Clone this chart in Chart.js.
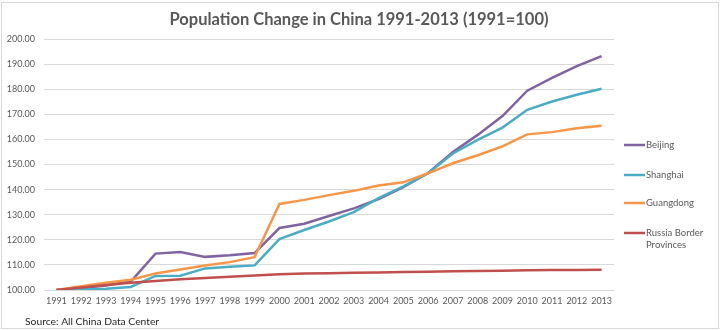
<!DOCTYPE html>
<html>
<head>
<meta charset="utf-8">
<title>Population Change in China 1991-2013</title>
<script src="https://cdn.jsdelivr.net/npm/chart.js@4/dist/chart.umd.min.js"></script>
<style>
body { margin: 0; background: #fff; }
canvas { display: block; }
</style>
</head>
<body>
<canvas id="chart" width="720" height="330"></canvas>
<script>
var years = ['1991','1992','1993','1994','1995','1996','1997','1998','1999','2000','2001','2002',
             '2003','2004','2005','2006','2007','2008','2009','2010','2011','2012','2013'];

// index values, 1991 = 100
var beijing   = [100, 100.8, 101.8, 103.4, 114.5, 115.1, 113.2, 113.8, 114.7, 124.7, 126.4, 129.5,
                 132.5, 136.2, 141.0, 146.6, 155.0, 161.8, 169.3, 179.4, 184.5, 189.2, 193.2];
var shanghai  = [100, 100.2, 100.5, 101.2, 105.6, 105.7, 108.6, 109.3, 109.8, 120.3, 123.9, 127.3,
                 131.0, 136.6, 141.3, 146.5, 154.4, 159.8, 164.7, 171.8, 175.1, 177.8, 180.2];
var guangdong = [100, 101.5, 102.9, 104.1, 106.6, 108.2, 109.8, 111.1, 113.1, 134.3, 135.9, 137.8,
                 139.5, 141.6, 142.9, 146.5, 150.5, 153.7, 157.2, 162.0, 162.9, 164.4, 165.4];
var russia    = [100, 101.0, 102.0, 102.9, 103.6, 104.3, 104.8, 105.3, 105.8, 106.3, 106.6, 106.7,
                 106.9, 107.0, 107.2, 107.3, 107.5, 107.6, 107.7, 107.9, 108.0, 108.0, 108.1];

var seriesNames  = [['Beijing'], ['Shanghai'], ['Guangdong'], ['Russia Border', 'Provinces']];
var seriesValues = [beijing, shanghai, guangdong, russia];
var seriesColors = ['#8064A2', '#4BACC6', '#F79646', '#C0504D'];

var yTicks = { min: 100, max: 200, step: 10 };

var FONT = 'Lato, "Open Sans", sans-serif';

// title, source line, frame and the legend on the right
var decorations = {
    id: 'decorations',
    beforeDraw: function(chart) {
        var ctx = chart.ctx;
        ctx.save();
        ctx.fillStyle = '#fff';
        ctx.fillRect(0, 0, chart.width, chart.height);
        ctx.restore();
    },
    afterDraw: function(chart) {
        var ctx = chart.ctx;
        ctx.save();
        ctx.strokeStyle = '#D9D9D9';
        ctx.lineWidth = 1;
        ctx.strokeRect(1.5, 2.5, chart.width - 3, chart.height - 4);

        ctx.fillStyle = '#595959';
        ctx.font = 'bold 16.5px ' + FONT;
        ctx.textAlign = 'center';
        ctx.textBaseline = 'middle';
        ctx.fillText('Population Change in China 1991-2013 (1991=100)', 359, 20);

        ctx.fillStyle = '#262626';
        ctx.font = '10.3px ' + FONT;
        ctx.textAlign = 'left';
        ctx.fillText('Source: All China Data Center', 25, 322);

        var rows = [145, 175, 203, 233];
        chart.data.datasets.forEach(function(ds, i) {
            var y = rows[i];
            ctx.strokeStyle = ds.borderColor;
            ctx.lineWidth = 2.5;
            ctx.beginPath();
            ctx.moveTo(624, y);
            ctx.lineTo(645, y);
            ctx.stroke();
            ctx.fillStyle = '#595959';
            ctx.font = '9.5px ' + FONT;
            ds.legendLines.forEach(function(line, j) {
                ctx.fillText(line, 646, y + j * 11.5);
            });
        });
        ctx.restore();
    }
};

var datasets = seriesValues.map(function(vals, i) {
    return {
        label: seriesNames[i].join(' '),
        legendLines: seriesNames[i],
        data: vals,
        borderColor: seriesColors[i],
        backgroundColor: seriesColors[i],
        borderWidth: 2.5,
        pointRadius: 0,
        tension: 0,
        order: seriesValues.length - i
    };
});

new Chart(document.getElementById('chart'), {
    type: 'line',
    data: { labels: years, datasets: datasets },
    plugins: [decorations],
    options: {
        responsive: false,
        animation: false,
        layout: { padding: { left: 0, right: 106, top: 39, bottom: 18 } },
        plugins: {
            legend: { display: false },
            title: { display: false },
            tooltip: { enabled: false }
        },
        scales: {
            x: {
                offset: true,
                grid: { display: false, drawTicks: false },
                border: { display: false },
                ticks: {
                    color: '#595959',
                    font: { family: FONT, size: 9 },
                    padding: 6,
                    maxRotation: 0,
                    autoSkip: false
                },
                afterFit: function(scale) { scale.height = 22; }
            },
            y: {
                min: yTicks.min,
                max: yTicks.max,
                grid: { color: '#D9D9D9', lineWidth: 1, drawTicks: false },
                border: { display: false },
                ticks: {
                    stepSize: yTicks.step,
                    color: '#595959',
                    font: { family: FONT, size: 9 },
                    padding: 9,
                    callback: function(v) { return v.toFixed(2); }
                },
                afterFit: function(scale) { scale.width = 44; }
            }
        }
    }
});
</script>
</body>
</html>
